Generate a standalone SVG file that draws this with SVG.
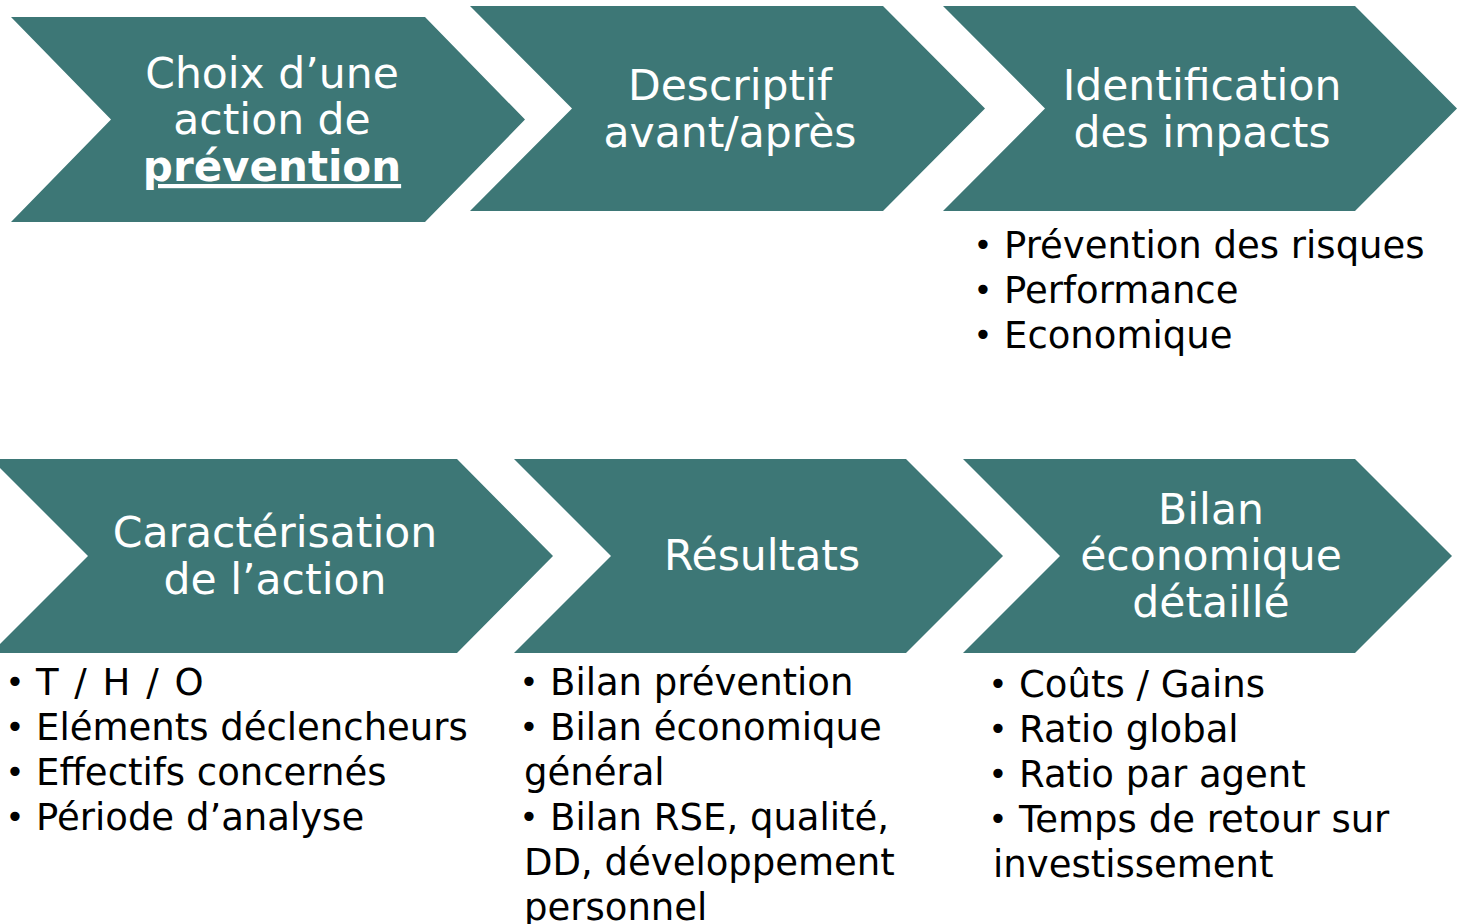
<svg xmlns="http://www.w3.org/2000/svg" width="1457" height="924" viewBox="0 0 1457 924">
  <style>
    .step { fill: #3d7776; }
    .title { font-family: "DejaVu Sans", Verdana, sans-serif; font-size: 42.5px; fill: #ffffff; text-anchor: middle; }
    .title-bold { font-weight: bold; text-decoration: underline; font-size: 42px; }
    .list { font-family: "DejaVu Sans", Verdana, sans-serif; font-size: 37px; fill: #000000; }
    .dot { text-anchor: middle; font-size: 32px; }
  </style>
  <rect width="1457" height="924" fill="#ffffff"/>

  <!-- Upper row of chevrons -->
  <g id="step-choix">
    <polygon class="step" points="11,17 425,17 525,119.5 425,222 11,222 111,119.5"/>
    <text class="title" x="272" y="88">Choix d’une</text>
    <text class="title" x="272" y="134">action de</text>
    <text class="title title-bold" x="272" y="181">prévention</text>
  </g>

  <g id="step-descriptif">
    <polygon class="step" points="470,6 883,6 985,108.5 883,211 470,211 572,108.5"/>
    <text class="title" x="730" y="100">Descriptif</text>
    <text class="title" x="730" y="147">avant/après</text>
  </g>

  <g id="step-impacts">
    <polygon class="step" points="943,6 1355,6 1457,108.5 1355,211 943,211 1045,108.5"/>
    <text class="title" x="1202" y="100">Identification</text>
    <text class="title" x="1202" y="147">des impacts</text>
  </g>

  <g id="list-impacts" class="list">
    <text class="dot" x="983" y="256">•</text><text x="1004" y="258">Prévention des risques</text>
    <text class="dot" x="983" y="301">•</text><text x="1004" y="303">Performance</text>
    <text class="dot" x="983" y="346">•</text><text x="1004" y="348">Economique</text>
  </g>

  <!-- Lower row of chevrons -->
  <g id="step-caracterisation">
    <polygon class="step" points="-9,459 457,459 553,556 457,653 -9,653 88,556"/>
    <text class="title" x="275" y="547">Caractérisation</text>
    <text class="title" x="275" y="594">de l’action</text>
  </g>

  <g id="step-resultats">
    <polygon class="step" points="514,459 906,459 1003,556 906,653 514,653 611,556"/>
    <text class="title" x="762" y="570">Résultats</text>
  </g>

  <g id="step-bilan">
    <polygon class="step" points="963,459 1355,459 1452,556 1355,653 963,653 1060,556"/>
    <text class="title" x="1211" y="524">Bilan</text>
    <text class="title" x="1211" y="570">économique</text>
    <text class="title" x="1211" y="617">détaillé</text>
  </g>

  <g id="list-caracterisation" class="list">
    <text class="dot" x="15" y="693">•</text><text x="36" y="695" word-spacing="4">T / H / O</text>
    <text class="dot" x="15" y="738">•</text><text x="36" y="740">Eléments déclencheurs</text>
    <text class="dot" x="15" y="783">•</text><text x="36" y="785">Effectifs concernés</text>
    <text class="dot" x="15" y="828">•</text><text x="36" y="830">Période d’analyse</text>
  </g>

  <g id="list-resultats" class="list">
    <text class="dot" x="529" y="693">•</text><text x="550" y="695">Bilan prévention</text>
    <text class="dot" x="529" y="738">•</text><text x="550" y="740">Bilan économique</text>
    <text x="524" y="785">général</text>
    <text class="dot" x="529" y="828">•</text><text x="550" y="830">Bilan RSE, qualité,</text>
    <text x="524" y="875">DD, développement</text>
    <text x="524" y="920">personnel</text>
  </g>

  <g id="list-bilan" class="list">
    <text class="dot" x="998" y="695">•</text><text x="1019" y="697">Coûts / Gains</text>
    <text class="dot" x="998" y="740">•</text><text x="1019" y="742">Ratio global</text>
    <text class="dot" x="998" y="785">•</text><text x="1019" y="787">Ratio par agent</text>
    <text class="dot" x="998" y="830">•</text><text x="1019" y="832">Temps de retour sur</text>
    <text x="993" y="877">investissement</text>
  </g>
</svg>
